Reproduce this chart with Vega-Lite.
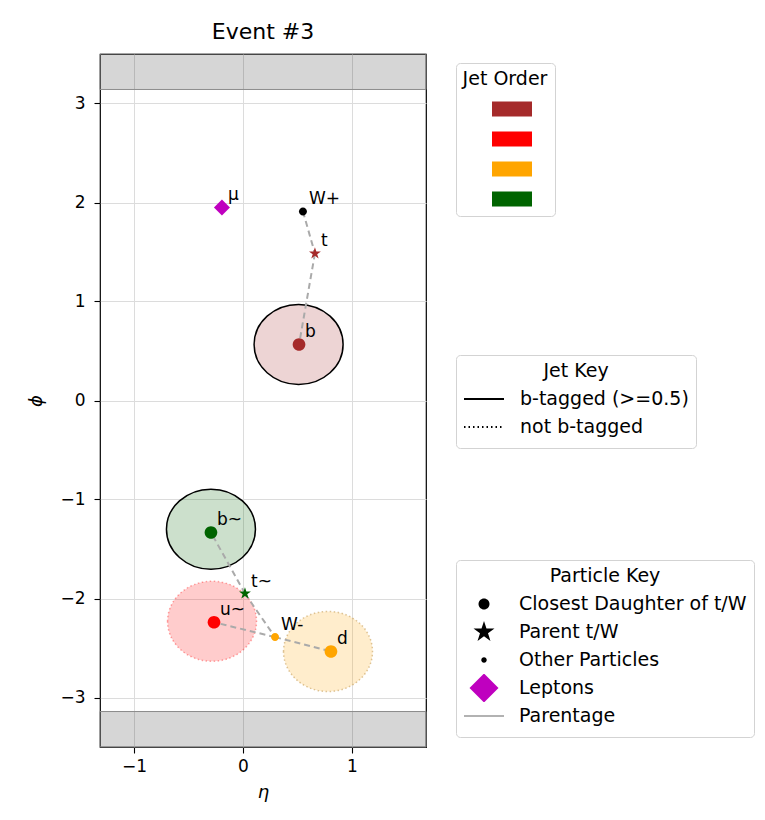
{
  "$schema": "https://vega.github.io/schema/vega-lite/v6.json",
  "width": 326,
  "height": 693,
  "autosize": {"type": "none"},
  "padding": {"left": 100, "top": 54, "right": 339, "bottom": 73},
  "background": "white",
  "title": {"text": "Event #3", "fontSize": 22, "fontWeight": "normal", "font": "DejaVu Sans", "color": "black", "offset": 10},
  "config": {
    "font": "DejaVu Sans",
    "view": {"stroke": "black", "strokeWidth": 1.2},
    "axis": {"labelFont": "DejaVu Sans", "labelFontSize": 17, "labelColor": "black", "titleFont": "DejaVu Sans", "titleFontSize": 18, "titleFontStyle": "italic", "titleFontWeight": "normal", "titleColor": "black", "tickColor": "black", "tickSize": 6, "tickWidth": 1.1, "domain": false, "grid": true, "gridColor": "#dcdcdc", "gridWidth": 1, "labelPadding": 5},
    "axisX": {"titlePadding": 9},
    "axisY": {"titlePadding": 14, "labelPadding": 9},
    "legend": {"labelFont": "DejaVu Sans", "labelFontSize": 19, "labelColor": "black", "titleFont": "DejaVu Sans", "titleFontSize": 19, "titleFontWeight": "normal", "titleColor": "black", "titleAnchor": "middle", "fillColor": "white", "strokeColor": "#d3d3d3", "cornerRadius": 4, "padding": 7, "labelLimit": 400}
  },
  "datasets": {
    "bands": [
      {"eta": -1.312, "eta2": 1.679, "phi": 3.14159, "phi2": 3.5},
      {"eta": -1.312, "eta2": 1.679, "phi": -3.5, "phi2": -3.14159}
    ],
    "jets": [
      {"eta": 0.51, "phi": 0.566, "jet": "1", "btag": "b-tagged (>=0.5)", "edge": "black"},
      {"eta": -0.284, "phi": -2.23, "jet": "2", "btag": "not b-tagged", "edge": "rgba(255,0,0,0.35)"},
      {"eta": 0.78, "phi": -2.535, "jet": "3", "btag": "not b-tagged", "edge": "rgba(200,160,90,0.6)"},
      {"eta": -0.294, "phi": -1.30, "jet": "4", "btag": "b-tagged (>=0.5)", "edge": "black"}
    ],
    "links": [
      {"seg": "s1", "ord": 1, "eta": 0.55, "phi": 1.91},
      {"seg": "s1", "ord": 2, "eta": 0.66, "phi": 1.485},
      {"seg": "s2", "ord": 1, "eta": 0.66, "phi": 1.485},
      {"seg": "s2", "ord": 2, "eta": 0.514, "phi": 0.566},
      {"seg": "s3", "ord": 1, "eta": 0.018, "phi": -1.95},
      {"seg": "s3", "ord": 2, "eta": -0.294, "phi": -1.333},
      {"seg": "s4", "ord": 1, "eta": 0.018, "phi": -1.95},
      {"seg": "s4", "ord": 2, "eta": 0.294, "phi": -2.39},
      {"seg": "s5", "ord": 1, "eta": 0.294, "phi": -2.39},
      {"seg": "s5", "ord": 2, "eta": -0.266, "phi": -2.24},
      {"seg": "s6", "ord": 1, "eta": 0.294, "phi": -2.39},
      {"seg": "s6", "ord": 2, "eta": 0.807, "phi": -2.535}
    ],
    "particles": [
      {"name": "b", "eta": 0.514, "phi": 0.566, "ptype": "Closest Daughter of t/W", "color": "#a52a2a"},
      {"name": "t", "eta": 0.66, "phi": 1.485, "ptype": "Parent t/W", "color": "#a52a2a"},
      {"name": "W+", "eta": 0.55, "phi": 1.91, "ptype": "Other Particles", "color": "black"},
      {"name": "μ", "eta": -0.193, "phi": 1.95, "ptype": "Leptons", "color": "#bf00bf"},
      {"name": "b~", "eta": -0.294, "phi": -1.333, "ptype": "Closest Daughter of t/W", "color": "#006400"},
      {"name": "t~", "eta": 0.018, "phi": -1.95, "ptype": "Parent t/W", "color": "#006400"},
      {"name": "u~", "eta": -0.266, "phi": -2.24, "ptype": "Closest Daughter of t/W", "color": "red"},
      {"name": "W-", "eta": 0.294, "phi": -2.39, "ptype": "Other Particles", "color": "orange"},
      {"name": "d", "eta": 0.807, "phi": -2.535, "ptype": "Closest Daughter of t/W", "color": "orange"}
    ]
  },
  "encoding": {
    "x": {"field": "eta", "type": "quantitative", "title": "η", "scale": {"domain": [-1.312, 1.679], "nice": false, "zero": false}, "axis": {"values": [-1, 0, 1], "format": "d"}},
    "y": {"field": "phi", "type": "quantitative", "title": "ϕ", "scale": {"domain": [-3.5, 3.5], "nice": false, "zero": false}, "axis": {"values": [-3, -2, -1, 0, 1, 2, 3], "format": "d"}}
  },
  "layer": [
    {
      "data": {"name": "bands"},
      "mark": {"type": "rect", "fill": "black", "fillOpacity": 0.16, "stroke": "#8c8c8c", "strokeWidth": 1},
      "encoding": {
        "x2": {"field": "eta2"},
        "y2": {"field": "phi2"}
      }
    },
    {
      "data": {"name": "jets"},
      "transform": [{"filter": "datum.btag === 'b-tagged (>=0.5)'"}],
      "mark": {"type": "point", "shape": "M -1 0 C -1 -0.497 -0.552 -0.9 0 -0.9 C 0.552 -0.9 1 -0.497 1 0 C 1 0.497 0.552 0.9 0 0.9 C -0.552 0.9 -1 0.497 -1 0 Z", "size": 7921, "filled": true, "opacity": 1, "fillOpacity": 0.2, "strokeOpacity": 1, "strokeWidth": 1.5},
      "encoding": {
        "fill": {"field": "jet", "type": "nominal", "scale": {"domain": ["1", "2", "3", "4"], "range": ["#a52a2a", "red", "orange", "#006400"]},
          "legend": {"title": "Jet Order", "orient": "none", "labelExpr": "''", "symbolType": "M -1 -0.375 H 1 V 0.375 H -1 Z", "symbolSize": 1600, "symbolOpacity": 1, "symbolStrokeWidth": 0, "legendX": 356, "legendY": 9, "rowPadding": -11, "titlePadding": 0, "symbolOffset": 15, "labelOffset": 0}},
        "stroke": {"field": "edge", "type": "nominal", "scale": null}
      }
    },
    {
      "data": {"name": "jets"},
      "transform": [{"filter": "datum.btag === 'not b-tagged'"}],
      "mark": {"type": "point", "shape": "M -1 0 C -1 -0.497 -0.552 -0.9 0 -0.9 C 0.552 -0.9 1 -0.497 1 0 C 1 0.497 0.552 0.9 0 0.9 C -0.552 0.9 -1 0.497 -1 0 Z", "size": 7921, "filled": true, "opacity": 1, "fillOpacity": 0.2, "strokeOpacity": 1, "strokeWidth": 1.5, "strokeDash": [1.5, 2.5]},
      "encoding": {
        "fill": {"field": "jet", "type": "nominal", "scale": {"domain": ["1", "2", "3", "4"], "range": ["#a52a2a", "red", "orange", "#006400"]},
          "legend": {"title": "Jet Order", "orient": "none", "labelExpr": "''", "symbolType": "M -1 -0.375 H 1 V 0.375 H -1 Z", "symbolSize": 1600, "symbolOpacity": 1, "symbolStrokeWidth": 0, "legendX": 356, "legendY": 9, "rowPadding": -11, "titlePadding": 0, "symbolOffset": 15, "labelOffset": 0}},
        "stroke": {"field": "edge", "type": "nominal", "scale": null}
      }
    },
    {
      "data": {"name": "jets"},
      "transform": [{"filter": "false"}],
      "mark": {"type": "line", "color": "black", "strokeWidth": 2},
      "encoding": {
        "detail": {"field": "jet", "type": "nominal"},
        "strokeDash": {"field": "btag", "type": "nominal", "scale": {"domain": ["b-tagged (>=0.5)", "not b-tagged"], "range": [[1, 0], [1.5, 3]]},
          "legend": {"title": "Jet Key", "orient": "none", "symbolType": "stroke", "symbolSize": 1600, "symbolStrokeColor": "black", "symbolStrokeWidth": 2, "legendX": 356, "legendY": 301, "clipHeight": 28, "rowPadding": 0, "titlePadding": 4, "labelOffset": 15}}
      }
    },
    {
      "data": {"name": "links"},
      "mark": {"type": "line", "stroke": "#aaaaaa", "strokeWidth": 2, "strokeDash": [6, 4]},
      "encoding": {
        "detail": {"field": "seg", "type": "nominal"},
        "order": {"field": "ord", "type": "quantitative"}
      }
    },
    {
      "data": {"name": "particles"},
      "mark": {"type": "point", "filled": true, "opacity": 1, "strokeWidth": 0, "size": 256},
      "encoding": {
        "fill": {"field": "color", "type": "nominal", "scale": null},
        "shape": {"field": "ptype", "type": "nominal",
          "scale": {"domain": ["Closest Daughter of t/W", "Parent t/W", "Other Particles", "Leptons", "Parentage"],
            "range": [
              "M -0.79 0 C -0.79 -0.436 -0.436 -0.79 0 -0.79 C 0.436 -0.79 0.79 -0.436 0.79 0 C 0.79 0.436 0.436 0.79 0 0.79 C -0.436 0.79 -0.79 0.436 -0.79 0 Z",
              "M 0 -0.78 L 0.175 -0.241 L 0.742 -0.241 L 0.283 0.092 L 0.458 0.631 L 0 0.298 L -0.458 0.631 L -0.283 0.092 L -0.742 -0.241 L -0.175 -0.241 Z",
              "M -0.5 0 C -0.5 -0.276 -0.276 -0.5 0 -0.5 C 0.276 -0.5 0.5 -0.276 0.5 0 C 0.5 0.276 0.276 0.5 0 0.5 C -0.276 0.5 -0.5 0.276 -0.5 0 Z",
              "M 0 -1 L 1 0 L 0 1 L -1 0 Z",
              "stroke"
            ]}}
      }
    },
    {
      "data": {"name": "particles"},
      "transform": [{"filter": "false"}],
      "mark": {"type": "point", "filled": true, "opacity": 1, "strokeWidth": 2},
      "encoding": {
        "shape": {"field": "ptype", "type": "nominal",
          "legend": {"title": "Particle Key", "orient": "none", "legendX": 356, "legendY": 506, "clipHeight": 28, "rowPadding": 0, "titlePadding": 4, "symbolOffset": 0, "labelOffset": 14, "symbolOpacity": 1}},
        "color": {"field": "ptype", "type": "nominal", "scale": {"domain": ["Closest Daughter of t/W", "Parent t/W", "Other Particles", "Leptons", "Parentage"], "range": ["black", "black", "black", "#bf00bf", "transparent"]}},
        "size": {"field": "ptype", "type": "nominal", "scale": {"type": "ordinal", "domain": ["Closest Daughter of t/W", "Parent t/W", "Other Particles", "Leptons", "Parentage"], "range": [194, 800, 120, 841, 1600]}},
        "stroke": {"field": "ptype", "type": "nominal", "scale": {"domain": ["Closest Daughter of t/W", "Parent t/W", "Other Particles", "Leptons", "Parentage"], "range": ["transparent", "transparent", "transparent", "transparent", "#999999"]}}
      }
    },
    {
      "data": {"name": "particles"},
      "mark": {"type": "text", "align": "left", "baseline": "middle", "dx": 6, "dy": -12, "fontSize": 17, "font": "DejaVu Sans", "color": "black"},
      "encoding": {
        "text": {"field": "name", "type": "nominal"}
      }
    }
  ]
}
